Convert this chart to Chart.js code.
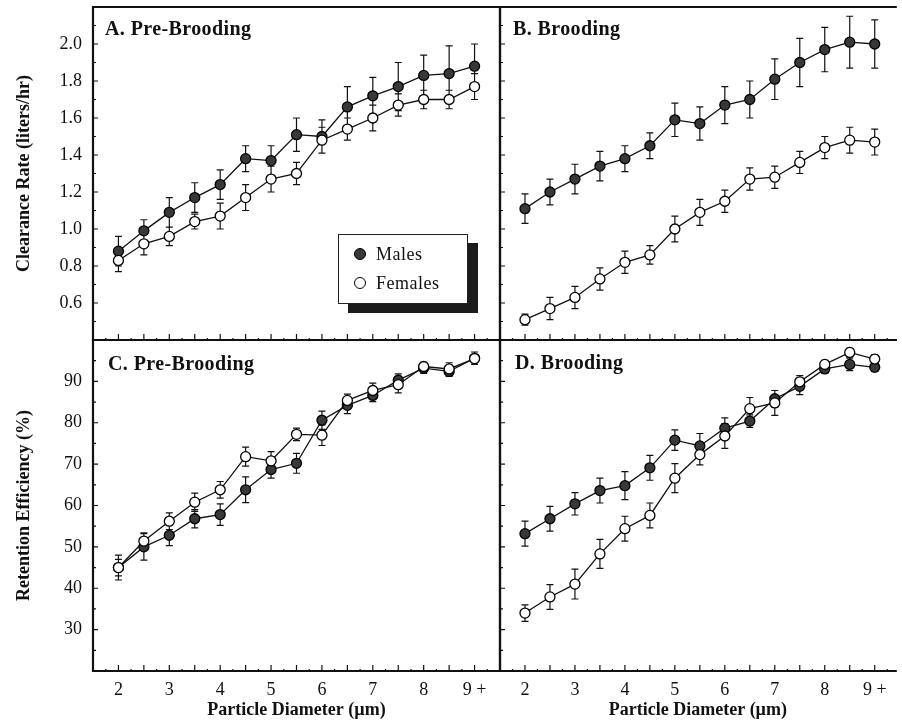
<!DOCTYPE html>
<html>
<head>
<meta charset="utf-8">
<title>Clearance rate and retention efficiency</title>
<script src="https://cdn.jsdelivr.net/npm/chart.js@4.4.1/dist/chart.umd.min.js"></script>
<style>
  body { margin: 0; background: #fff; }
  #page { position: relative; width: 902px; height: 723px; overflow: hidden;
          font-family: 'Liberation Serif', 'Times New Roman', serif; color: #111; }
  #page canvas { position: absolute; left: 0; top: 0; }
  .panel-title { position: absolute; font-weight: bold; font-size: 20px; line-height: 20px;
                 letter-spacing: 0.4px; white-space: nowrap; }
  #legend { position: absolute; left: 338px; top: 234px; width: 128px; height: 68px;
            background: #fff; border: 1px solid #222; box-shadow: 10px 9px 0 #1c1c1c;
            font-size: 18px; }
  #legend .key { position: absolute; left: 15px; width: 10px; height: 10px; border-radius: 50%;
                 border: 1.3px solid #000; }
  #legend .txt { position: absolute; left: 37px; line-height: 20px; letter-spacing: 0.5px; }
</style>
</head>
<body>
<div id="page">
  <canvas id="chartA" width="902" height="723"></canvas>
  <canvas id="chartB" width="902" height="723"></canvas>
  <canvas id="chartC" width="902" height="723"></canvas>
  <canvas id="chartD" width="902" height="723"></canvas>

  <div class="panel-title" style="left:105px; top:18px;">A. Pre-Brooding</div>
  <div class="panel-title" style="left:513px; top:18px;">B. Brooding</div>
  <div class="panel-title" style="left:108px; top:353px;">C. Pre-Brooding</div>
  <div class="panel-title" style="left:515px; top:352px;">D. Brooding</div>

  <div id="legend">
    <span class="key" style="top:13px; background:#383838;"></span>
    <span class="txt" style="top:9px;">Males</span>
    <span class="key" style="top:42px; background:#fff;"></span>
    <span class="txt" style="top:38px;">Females</span>
  </div>
</div>

<script>
//jshint esversion:6

// Particle diameters (um), the last one is "9 +"
var diameters = [2, 2.5, 3, 3.5, 4, 4.5, 5, 5.5, 6, 6.5, 7, 7.5, 8, 8.5, 9];

// A. Pre-brooding clearance rate (liters/hr)
var preClearMales      = [0.88, 0.99, 1.09, 1.17, 1.24, 1.38, 1.37, 1.51, 1.50, 1.66, 1.72, 1.77, 1.83, 1.84, 1.88];
var preClearMalesErr   = [0.08, 0.06, 0.08, 0.08, 0.08, 0.07, 0.08, 0.09, 0.09, 0.11, 0.10, 0.13, 0.11, 0.15, 0.12];
var preClearFemales    = [0.83, 0.92, 0.96, 1.04, 1.07, 1.17, 1.27, 1.30, 1.48, 1.54, 1.60, 1.67, 1.70, 1.70, 1.77];
var preClearFemalesErr = [0.06, 0.06, 0.05, 0.04, 0.07, 0.07, 0.07, 0.06, 0.07, 0.06, 0.07, 0.06, 0.05, 0.05, 0.07];

// B. Brooding clearance rate (liters/hr)
var brdClearMales      = [1.11, 1.20, 1.27, 1.34, 1.38, 1.45, 1.59, 1.57, 1.67, 1.70, 1.81, 1.90, 1.97, 2.01, 2.00];
var brdClearMalesErr   = [0.08, 0.07, 0.08, 0.08, 0.07, 0.07, 0.09, 0.09, 0.10, 0.10, 0.11, 0.13, 0.12, 0.14, 0.13];
var brdClearFemales    = [0.51, 0.57, 0.63, 0.73, 0.82, 0.86, 1.00, 1.09, 1.15, 1.27, 1.28, 1.36, 1.44, 1.48, 1.47];
var brdClearFemalesErr = [0.03, 0.06, 0.06, 0.06, 0.06, 0.05, 0.07, 0.07, 0.06, 0.06, 0.06, 0.06, 0.06, 0.07, 0.07];

// C. Pre-brooding retention efficiency (%)
var preRetMales      = [45.0, 50.0, 52.8, 56.8, 57.8, 63.8, 68.7, 70.2, 80.6, 84.2, 86.6, 90.3, 93.2, 92.4, 95.6];
var preRetMalesErr   = [3.0, 3.2, 2.5, 2.2, 2.6, 3.1, 2.1, 2.4, 2.2, 2.0, 1.5, 1.5, 1.3, 1.2, 1.5];
var preRetFemales    = [45.0, 51.4, 56.2, 60.8, 63.8, 71.8, 70.8, 77.2, 77.0, 85.4, 87.8, 89.2, 93.6, 93.0, 95.5];
var preRetFemalesErr = [2.0, 2.0, 2.0, 2.2, 2.0, 2.3, 2.2, 1.5, 2.5, 1.5, 1.8, 2.0, 1.0, 1.5, 1.0];

// D. Brooding retention efficiency (%)
var brdRetMales      = [53.2, 56.8, 60.4, 63.6, 64.8, 69.1, 75.8, 74.4, 78.7, 80.4, 85.8, 88.8, 93.0, 94.1, 93.4];
var brdRetMalesErr   = [3.0, 3.0, 2.7, 3.0, 3.4, 3.0, 2.5, 3.0, 2.5, 1.5, 2.0, 2.0, 1.0, 1.5, 1.0];
var brdRetFemales    = [34.0, 37.9, 41.0, 48.3, 54.4, 57.6, 66.6, 72.3, 76.8, 83.4, 84.8, 89.9, 94.1, 97.0, 95.4];
var brdRetFemalesErr = [2.0, 3.0, 3.6, 3.5, 3.0, 3.0, 3.5, 2.5, 3.0, 2.7, 3.0, 1.5, 1.0, 1.0, 1.0];

Chart.defaults.font.family = "'Liberation Serif', 'Times New Roman', serif";
Chart.defaults.color = '#111';

function stepValues(min, max, step) {
  var out = [];
  for (var k = Math.ceil(min / step - 1e-6); k * step <= max + 1e-6; k++) out.push(k * step);
  return out;
}
function isMultiple(v, m) {
  return Math.abs(v / m - Math.round(v / m)) < 1e-6;
}

// vertical error bars with small caps, drawn under the markers
var errorBarPlugin = {
  id: 'errorBars',
  beforeDatasetsDraw: function (chart) {
    var ctx = chart.ctx, xs = chart.scales.x, ys = chart.scales.y;
    ctx.save();
    ctx.strokeStyle = '#111';
    ctx.lineWidth = 1.2;
    ctx.beginPath();
    chart.data.datasets.forEach(function (ds) {
      ds.data.forEach(function (p, i) {
        var e = ds.errors[i];
        var px = xs.getPixelForValue(p.x);
        var top = ys.getPixelForValue(p.y + e);
        var bot = ys.getPixelForValue(p.y - e);
        ctx.moveTo(px, top); ctx.lineTo(px, bot);
        ctx.moveTo(px - 3.5, top); ctx.lineTo(px + 3.5, top);
        ctx.moveTo(px - 3.5, bot); ctx.lineTo(px + 3.5, bot);
      });
    });
    ctx.stroke();
    ctx.restore();
  }
};

// panel frame with inward tick marks
var framePlugin = {
  id: 'frame',
  afterDraw: function (chart, args, opts) {
    var ctx = chart.ctx, a = chart.chartArea;
    var xs = chart.scales.x, ys = chart.scales.y;
    ctx.save();
    ctx.strokeStyle = '#111';
    ctx.lineWidth = 1.2;
    ctx.beginPath();
    stepValues(ys.min, ys.max, opts.yStep).forEach(function (v) {
      var py = ys.getPixelForValue(v);
      var len = isMultiple(v, opts.yMajor) ? 5 : 3;
      ctx.moveTo(a.left, py); ctx.lineTo(a.left + len, py);
    });
    stepValues(xs.min, xs.max, opts.xStep).forEach(function (v) {
      var px = xs.getPixelForValue(v);
      var len = isMultiple(v, opts.xMajor) ? 6 : 2;
      ctx.moveTo(px, a.bottom); ctx.lineTo(px, a.bottom - len);
    });
    ctx.stroke();

    ctx.lineWidth = 2.2;
    ctx.lineCap = 'square';
    ctx.beginPath();
    if (opts.top) { ctx.moveTo(a.left, a.top); ctx.lineTo(a.right, a.top); }
    if (opts.left) { ctx.moveTo(a.left, a.top); ctx.lineTo(a.left, a.bottom); }
    if (opts.right) { ctx.moveTo(a.right, a.top); ctx.lineTo(a.right, a.bottom); }
    if (opts.bottom) { ctx.moveTo(a.left, a.bottom); ctx.lineTo(a.right, a.bottom); }
    ctx.stroke();
    ctx.restore();
  }
};

function clearanceLabel(v) {
  var r = Math.round(v * 10);
  return (r % 2 === 0 && r >= 6 && r <= 20) ? (r / 10).toFixed(1) : '';
}
function retentionLabel(v) {
  var r = Math.round(v);
  return (r % 10 === 0 && r >= 30 && r <= 90) ? String(r) : '';
}
function diameterLabel(v) {
  if (!isMultiple(v, 1) || v < 2 || v > 9) return '';
  return Math.round(v) === 9 ? '9 +' : String(Math.round(v));
}

function points(ys) {
  return diameters.map(function (x, i) { return { x: x, y: ys[i] }; });
}

function seriesSet(males, malesErr, females, femalesErr) {
  var common = { borderColor: '#111', borderWidth: 1.3, tension: 0, pointRadius: 5,
                 pointBorderWidth: 1.3, pointBorderColor: '#000' };
  return [
    Object.assign({ label: 'Females', data: points(females), errors: femalesErr,
                    pointBackgroundColor: '#fff' }, common),
    Object.assign({ label: 'Males', data: points(males), errors: malesErr,
                    pointBackgroundColor: '#383838' }, common)
  ];
}

function makePanel(id, datasets, p) {
  var ctx = document.getElementById(id).getContext('2d');
  return new Chart(ctx, {
    type: 'line',
    data: { datasets: datasets },
    plugins: [errorBarPlugin, framePlugin],
    options: {
      responsive: false,
      animation: false,
      layout: { padding: p.padding },
      plugins: {
        legend: { display: false },
        tooltip: { enabled: false },
        frame: p.frame
      },
      scales: {
        x: {
          type: 'linear',
          min: 1.5,
          max: p.xMax,
          grid: { display: false, drawTicks: false },
          border: { display: false },
          ticks: { display: p.xLabels, stepSize: 0.5, autoSkip: false, maxRotation: 0,
                   includeBounds: false, padding: 8, font: { size: 18 }, callback: diameterLabel },
          title: { display: p.xLabels, text: 'Particle Diameter (\u00b5m)',
                   font: { size: 18, weight: 'bold' }, padding: { top: 0, bottom: 2 } },
          afterFit: function (s) { s.height = p.xLabels ? 52 : 0; s.paddingLeft = 0; s.paddingRight = 0; }
        },
        y: {
          type: 'linear',
          min: p.yMin,
          max: p.yMax,
          grid: { display: false, drawTicks: false },
          border: { display: false },
          ticks: { display: !!p.yTitle, stepSize: p.yStep, autoSkip: false, padding: 11,
                   font: { size: 18 }, callback: p.yLabel },
          title: { display: !!p.yTitle, text: p.yTitle || '',
                   font: { size: 18, weight: 'bold' }, padding: { top: 14, bottom: 0 } },
          afterFit: function (s) { s.width = p.yTitle ? 93 : 0; s.paddingTop = 0; s.paddingBottom = 0; }
        }
      }
    }
  });
}

var chartA = makePanel('chartA', seriesSet(preClearMales, preClearMalesErr, preClearFemales, preClearFemalesErr), {
  padding: { left: 0, top: 7, right: 402, bottom: 383 },
  xMax: 9.5, xLabels: false,
  yMin: 0.4, yMax: 2.2, yStep: 0.1, yLabel: clearanceLabel, yTitle: 'Clearance Rate (liters/hr)',
  frame: { top: true, left: true, right: true, bottom: true, yStep: 0.1, yMajor: 0.2, xStep: 0.25, xMajor: 0.5 }
});

var chartB = makePanel('chartB', seriesSet(brdClearMales, brdClearMalesErr, brdClearFemales, brdClearFemalesErr), {
  padding: { left: 500, top: 7, right: 0, bottom: 383 },
  xMax: 9.42, xLabels: false,
  yMin: 0.4, yMax: 2.2, yStep: 0.1, yLabel: clearanceLabel, yTitle: null,
  frame: { top: true, left: true, right: false, bottom: true, yStep: 0.1, yMajor: 0.2, xStep: 0.25, xMajor: 0.5 }
});

var chartC = makePanel('chartC', seriesSet(preRetMales, preRetMalesErr, preRetFemales, preRetFemalesErr), {
  padding: { left: 0, top: 340, right: 402, bottom: 0 },
  xMax: 9.5, xLabels: true,
  yMin: 20, yMax: 100, yStep: 5, yLabel: retentionLabel, yTitle: 'Retention Efficiency (%)',
  frame: { top: true, left: true, right: true, bottom: true, yStep: 5, yMajor: 10, xStep: 0.25, xMajor: 0.5 }
});

var chartD = makePanel('chartD', seriesSet(brdRetMales, brdRetMalesErr, brdRetFemales, brdRetFemalesErr), {
  padding: { left: 500, top: 340, right: 0, bottom: 0 },
  xMax: 9.42, xLabels: true,
  yMin: 20, yMax: 100, yStep: 5, yLabel: retentionLabel, yTitle: null,
  frame: { top: true, left: true, right: false, bottom: true, yStep: 5, yMajor: 10, xStep: 0.25, xMajor: 0.5 }
});
</script>
</body>
</html>
